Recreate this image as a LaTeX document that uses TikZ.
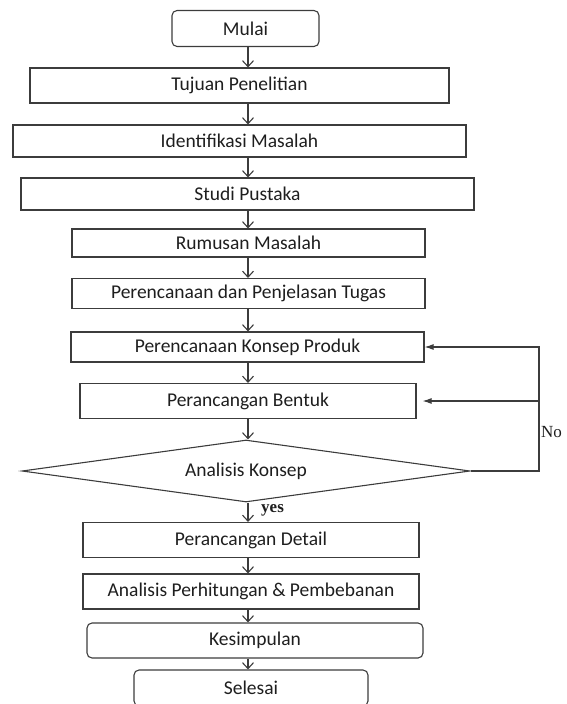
\documentclass[tikz,border=0pt]{standalone}
\usepackage{fontspec}
\setmainfont{Carlito}
\newfontfamily\labelfont{Liberation Serif}
\usepackage{tikz}
\usetikzlibrary{shapes.geometric,arrows.meta,positioning,calc}
\usepackage{xcolor}
\definecolor{flowline}{RGB}{60,60,60}
\definecolor{flowtext}{RGB}{30,30,30}
\tikzset{
    proc/.style={rectangle, draw=flowline, line width=1.1pt, inner sep=0pt, text=flowtext, font=\fontsize{19.5}{23}\selectfont},
    term/.style={proc, rounded corners=5pt},
    decision/.style={diamond, draw=flowline, line width=1.1pt, aspect=7.2, inner sep=2pt, minimum width=448pt, minimum height=62pt, text=flowtext, font=\fontsize{19.5}{23}\selectfont},
    arr/.style={draw=flowline, line width=1.1pt, -{Straight Barb[length=6pt,width=11pt]}},
    fb/.style={draw=flowline, line width=1.1pt, -{Latex[length=9pt,width=6pt]}},
    answer/.style={font=\labelfont\fontsize{17}{20}\selectfont, text=flowtext, inner sep=0pt},
}
\begin{document}
\begin{tikzpicture}[x=1pt, y=-1pt]
    \useasboundingbox (0,0) rectangle (566,704);
    % Main column
    \node[term, minimum width=147pt, minimum height=36pt] (mulai) at (245.5, 28.5) {Mulai};
    \node[proc, minimum width=419pt, minimum height=35pt] (tujuan) at (239.5, 85.5) {Tujuan Penelitian};
    \node[proc, minimum width=453pt, minimum height=32pt] (identifikasi) at (239.5, 141) {Identifikasi Masalah};
    \node[proc, minimum width=453pt, minimum height=32pt] (studi) at (247.5, 194) {Studi Pustaka};
    \node[proc, minimum width=353pt, minimum height=28pt] (rumusan) at (248.5, 243) {Rumusan Masalah};
    \node[proc, minimum width=353pt, minimum height=30pt] (tugas) at (248.5, 293.5) {Perencanaan dan Penjelasan Tugas};
    \node[proc, minimum width=353pt, minimum height=30pt] (konsep) at (247.5, 347) {Perencanaan Konsep Produk};
    \node[proc, minimum width=336pt, minimum height=35pt] (bentuk) at (248, 401) {Perancangan Bentuk};
    \node[decision] (analisis) at (246, 471) {Analisis Konsep};
    \node[proc, minimum width=336pt, minimum height=35pt] (detail) at (251, 540) {Perancangan Detail};
    \node[proc, minimum width=336pt, minimum height=35pt] (hitung) at (251, 591.5) {Analisis Perhitungan \& Pembebanan};
    \node[term, minimum width=336pt, minimum height=35pt] (kesimpulan) at (255, 640.5) {Kesimpulan};
    \node[term, minimum width=234pt, minimum height=36pt] (selesai) at (251, 688) {Selesai};
    % Arrows down the spine
    \coordinate (spine) at (248, 0);
    \foreach \a/\b in {mulai/tujuan, tujuan/identifikasi, identifikasi/studi, studi/rumusan, rumusan/tugas, tugas/konsep, konsep/bentuk, bentuk/analisis, analisis/detail, detail/hitung, hitung/kesimpulan, kesimpulan/selesai} {
        \draw[arr] (spine |- \a.south) -- (spine |- \b.north);
    }
    \node[answer, anchor=west, font=\labelfont\bfseries\fontsize{17}{20}\selectfont] (yes) at (261, 510) {yes};
    % Loop back
    \coordinate (turn) at (539, 0);
    \draw[fb] (analisis.east) -- (turn |- analisis.east) |- (konsep.east);
    \draw[fb, shorten >=6pt] (turn |- bentuk.east) -- (bentuk.east);
    \node[answer, anchor=west] (no) at (541, 432) {No};
\end{tikzpicture}
\end{document}
